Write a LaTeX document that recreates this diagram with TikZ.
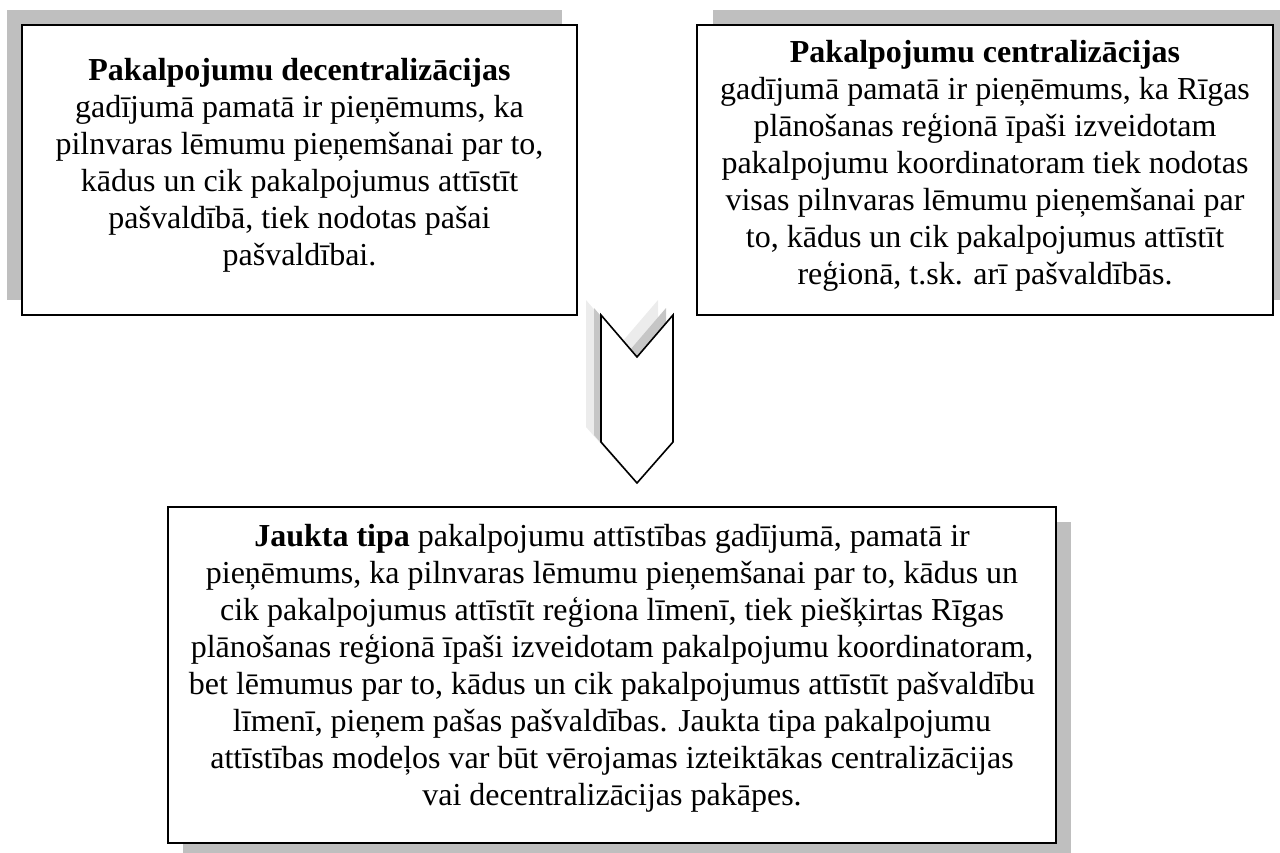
\documentclass[tikz,border=0pt]{standalone}
\usepackage{fontspec}
\setmainfont{Liberation Serif}
\begin{document}
\begin{tikzpicture}[x=0.5pt,y=-0.5pt,
  shadowfill/.style={fill=gray!50,draw=none},
  boxframe/.style={draw=black,line width=1.1pt,fill=white,rectangle,inner sep=0pt},
  boxtext/.style={align=center,inner sep=0pt,font=\fontsize{16}{18.5}\selectfont}]
\useasboundingbox (0,0) rectangle (1280,852);
% left box
\fill[shadowfill] (7,10) rectangle (562,300);
\node[boxframe,minimum width=277.5pt,minimum height=145pt] (left) at (299.5,170) {};
\node[boxtext] (lefttext) at (299.5,165) {\textbf{Pakalpojumu decentralizācijas}\\ gadījumā pamatā ir pieņēmums, ka\\ pilnvaras lēmumu pieņemšanai par to,\\ kādus un cik pakalpojumus attīstīt\\ pašvaldībā, tiek nodotas pašai\\ pašvaldībai.};
% right box
\fill[shadowfill] (713,10) rectangle (1288,300);
\node[boxframe,minimum width=288pt,minimum height=145pt] (right) at (985,170) {};
\node[boxtext] (righttext) at (985,166) {\textbf{Pakalpojumu centralizācijas}\\ gadījumā pamatā ir pieņēmums, ka Rīgas\\ plānošanas reģionā īpaši izveidotam\\ pakalpojumu koordinatoram tiek nodotas\\ visas pilnvaras lēmumu pieņemšanai par\\ to, kādus un cik pakalpojumus attīstīt\\ reģionā, t.sk. arī pašvaldībās.};
% arrow
\fill[gray!15] (586,300) -- (622,342) -- (658,300) -- (658,427) -- (622,468) -- (586,427) -- cycle;
\fill[gray!45] (594,308) -- (630,350) -- (666,308) -- (666,435) -- (630,476) -- (594,435) -- cycle;
\draw[line width=0.8pt,fill=white,line join=miter] (601,315) -- (637,357) -- (673,315) -- (673,442) -- (637,483) -- (601,442) -- cycle;
% bottom box
\fill[shadowfill] (183,522) rectangle (1071,858);
\node[boxframe,minimum width=444pt,minimum height=168pt] (bottom) at (612,675) {};
\node[boxtext] (bottomtext) at (612,668) {\textbf{Jaukta tipa} pakalpojumu attīstības gadījumā, pamatā ir\\ pieņēmums, ka pilnvaras lēmumu pieņemšanai par to, kādus un\\ cik pakalpojumus attīstīt reģiona līmenī, tiek piešķirtas Rīgas\\ plānošanas reģionā īpaši izveidotam pakalpojumu koordinatoram,\\ bet lēmumus par to, kādus un cik pakalpojumus attīstīt pašvaldību\\ līmenī, pieņem pašas pašvaldības. Jaukta tipa pakalpojumu\\ attīstības modeļos var būt vērojamas izteiktākas centralizācijas\\ vai decentralizācijas pakāpes.};
\end{tikzpicture}
\end{document}
